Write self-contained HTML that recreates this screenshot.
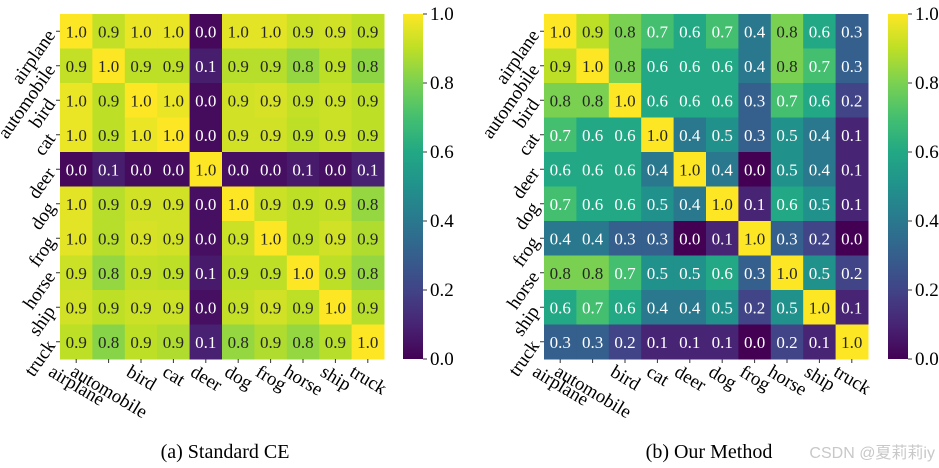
<!DOCTYPE html>
<html><head><meta charset="utf-8">
<style>
html,body{margin:0;padding:0;background:#fff;}
svg{display:block;}
svg text{font-family:"Liberation Serif","DejaVu Serif","Times New Roman",serif;}
svg text.wm{font-family:"Liberation Sans","Noto Sans CJK SC",sans-serif;}
</style></head>
<body>
<svg id="fig" width="939" height="468" viewBox="0 0 939 468" xmlns="http://www.w3.org/2000/svg">
<defs>
<linearGradient id="vir" x1="0" y1="1" x2="0" y2="0">
<stop offset="0" stop-color="#440154"/><stop offset="0.1" stop-color="#482475"/><stop offset="0.2" stop-color="#414487"/><stop offset="0.3" stop-color="#355f8d"/><stop offset="0.4" stop-color="#2a788e"/><stop offset="0.5" stop-color="#21918c"/><stop offset="0.6" stop-color="#22a884"/><stop offset="0.7" stop-color="#44bf70"/><stop offset="0.8" stop-color="#7ad151"/><stop offset="0.9" stop-color="#bddf26"/><stop offset="1" stop-color="#fde725"/>
</linearGradient>
</defs>
<text x="225" y="458" text-anchor="middle" font-size="20">(a) Standard CE</text>
<text x="709" y="458" text-anchor="middle" font-size="20">(b) Our Method</text>
<text class="wm" x="935" y="458" text-anchor="end" font-size="16" fill="#c8c8c8">CSDN @夏莉莉iy</text>
</svg>
<script>
const categories = ["airplane","automobile","bird","cat","deer","dog","frog","horse","ship","truck"];
const valuesStandardCE = [
[1.0,.91,.97,.97,.02,.96,.96,.92,.93,.90],
[.91,1.0,.90,.90,.08,.89,.89,.84,.90,.83],
[.97,.90,1.0,.97,.03,.93,.94,.91,.92,.90],
[.97,.90,.97,1.0,.03,.93,.93,.90,.92,.90],
[.02,.08,.03,.03,1.0,.04,.04,.07,.04,.09],
[.96,.89,.93,.93,.04,1.0,.92,.90,.91,.84],
[.96,.89,.94,.93,.04,.92,1.0,.90,.93,.88],
[.92,.84,.91,.90,.07,.90,.90,1.0,.90,.84],
[.93,.90,.92,.92,.04,.91,.93,.90,1.0,.89],
[.90,.82,.90,.88,.09,.84,.88,.84,.89,1.0]];
const valuesOurMethod = [
[1.0,.9,.8,.7,.6,.7,.4,.8,.6,.3],
[.9,1.0,.8,.6,.6,.6,.4,.8,.7,.3],
[.8,.8,1.0,.6,.6,.6,.3,.7,.6,.2],
[.7,.6,.6,1.0,.4,.5,.3,.5,.4,.1],
[.6,.6,.6,.4,1.0,.4,.0,.5,.4,.1],
[.7,.6,.6,.5,.4,1.0,.1,.6,.5,.1],
[.4,.4,.3,.3,.0,.1,1.0,.3,.2,.0],
[.8,.8,.7,.5,.5,.6,.3,1.0,.5,.2],
[.6,.7,.6,.4,.4,.5,.2,.5,1.0,.1],
[.3,.3,.2,.1,.1,.1,.0,.2,.1,1.0]];
const colorbarTicks = [0.0,0.2,0.4,0.6,0.8,1.0];

const NS="http://www.w3.org/2000/svg";
const svg=document.getElementById('fig');
const stops=["#440154","#482475","#414487","#355f8d","#2a788e","#21918c","#22a884","#44bf70","#7ad151","#bddf26","#fde725"];
function hex(h){return [1,3,5].map(i=>parseInt(h.substr(i,2),16));}
function viridis(v){v=Math.max(0,Math.min(1,v));const t=v*10,i=Math.min(9,Math.floor(t)),f=t-i;const a=hex(stops[i]),b=hex(stops[i+1]);return "rgb("+a.map((c,k)=>Math.round(c+(b[k]-c)*f)).join(",")+")";}
function mk(tag,attrs,parent){const e=document.createElementNS(NS,tag);for(const k in attrs)e.setAttribute(k,attrs[k]);(parent||svg).appendChild(e);return e;}

function heatmap(data,x0,cbx,key){
  const y0=14,W=324,H=345,n=categories.length,cw=W/n,ch=H/n;
  const g=mk('g',{});
  
  
  const xs=j=>x0+j*cw, ys=i=>y0+i*ch;
  data.forEach((row,i)=>row.forEach((v,j)=>{
    const r=mk('rect',{x:xs(j),y:ys(i),width:cw+0.5,height:ch+0.5,fill:viridis(v)},g);
    
    
    const t=mk('text',{x:xs(j)+cw/2,y:ys(i)+ch/2+6,'text-anchor':'middle','font-size':17,fill:v>=0.75?'#262626':'#ffffff'},g);
    t.textContent=v.toFixed(1);
    
    
  }));
  categories.forEach((c,k)=>{
    const cx=xs(k)+cw/2, cy=ys(k)+ch/2;
    mk('line',{x1:cx,y1:y0+H,x2:cx,y2:y0+H+4,stroke:'#333','stroke-width':1},g);
    mk('line',{x1:x0-4,y1:cy,x2:x0,y2:cy,stroke:'#333','stroke-width':1},g);
    const tx=mk('text',{'font-size':19,'text-anchor':'middle'},g);
    tx.textContent=c;
    
    
    const w=tx.getComputedTextLength(), h=14;
    const ccy=y0+H+6+(w*0.5+h*0.866)/2;
    tx.setAttribute('x',cx);tx.setAttribute('y',ccy+5);
    tx.setAttribute('transform','rotate(31 '+cx+' '+ccy+')');
    const ty=mk('text',{'font-size':19,'text-anchor':'end'},g);
    ty.textContent=c;
    
    
    const ax=x0-4, ay=cy+4;
    ty.setAttribute('x',ax);ty.setAttribute('y',ay);
    ty.setAttribute('transform','rotate(-55 '+ax+' '+ay+')');
  });
  const cb=mk('rect',{x:cbx,y:y0,width:20,height:H,fill:'url(#vir)'},g);
  
  
  colorbarTicks.forEach(t=>{
    const y=y0+H-t*H;
    mk('line',{x1:cbx+20,y1:y,x2:cbx+24,y2:y,stroke:'#333','stroke-width':1},g);
    const tl=mk('text',{x:cbx+27,y:y+6,'font-size':19},g);
    tl.textContent=t.toFixed(1);
    
    
  });
}
heatmap(valuesStandardCE,60,403,'standard-ce');
heatmap(valuesOurMethod,544,888,'our-method');
</script>
</body></html>
